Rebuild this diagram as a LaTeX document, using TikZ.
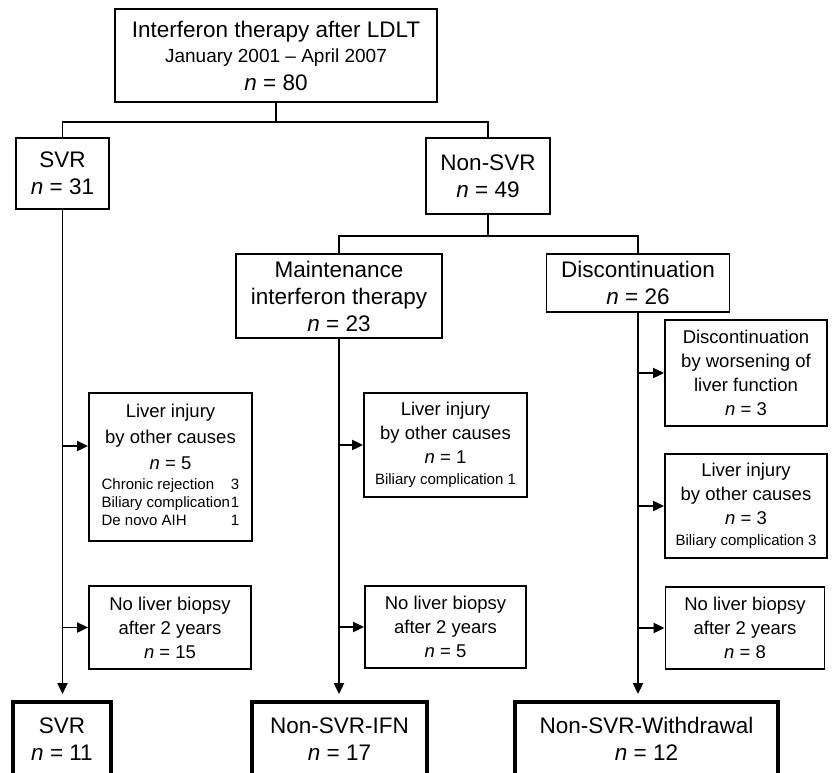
\documentclass[tikz,border=0pt]{standalone}
\usepackage{fontspec}
\setmainfont{Liberation Sans}
\usetikzlibrary{arrows.meta,positioning}

\newcommand{\bigtxt}{\fontsize{22.5}{27}\selectfont}
\newcommand{\midtxt}{\fontsize{18.5}{24}\selectfont}
\newcommand{\smalltxt}{\fontsize{15}{18}\selectfont}

\begin{document}
\begin{tikzpicture}[x=1pt,y=-1pt]
\tikzset{
  flowbox/.style={draw,line width=1.8pt,align=center,inner sep=0pt,font=\bigtxt},
  sidebox/.style={flowbox,font=\midtxt},
  endbox/.style={flowbox,line width=3.8pt},
  link/.style={line width=1.9pt},
  arrow/.style={link,-{Triangle[length=11pt,width=10pt]}}
}
\useasboundingbox (0,0) rectangle (839,772);
\clip (0,0) rectangle (839,772);
% top of the tree
\node[flowbox,minimum width=322pt,minimum height=93pt] (top) at (276,55.5)
  {Interferon therapy after LDLT\\[-2pt]{\fontsize{19}{24}\selectfont January 2001 -- April 2007}\\[1pt]\textit{n} = 80};
\node[flowbox,minimum width=93pt,minimum height=71pt] (svr1) at (62.5,173.5) {SVR\\\textit{n} = 31};
\node[flowbox,minimum width=124pt,minimum height=76pt] (nonsvr) at (488,176) {Non-SVR\\\textit{n} = 49};
\node[flowbox,minimum width=206pt,minimum height=84pt] (maint) at (339,296)
  {Maintenance\\interferon therapy\\\textit{n} = 23};
\node[flowbox,minimum width=183pt,minimum height=58pt] (disc) at (638,283) {Discontinuation\\\textit{n} = 26};
% side boxes
\node[sidebox,minimum width=163pt,minimum height=148pt] (li1) at (170.5,467)
  {Liver injury\\[2pt]by other causes\\[2pt]\textit{n} = 5\\[-4pt]{\smalltxt\begin{tabular}[t]{@{}l@{\hspace{1pt}}r@{}}
   Chronic rejection & 3\\ Biliary complication & 1\\ De novo AIH & 1\end{tabular}}};
\node[sidebox,minimum width=162pt,minimum height=83pt] (nb1) at (170,627.5)
  {No liver biopsy\\after 2 years\\\textit{n} = 15};
\node[sidebox,minimum width=163pt,minimum height=104pt] (li2) at (445.5,445)
  {Liver injury\\by other causes\\\textit{n} = 1\\[-3pt]{\smalltxt Biliary complication 1}};
\node[sidebox,minimum width=161pt,minimum height=82pt] (nb2) at (445.5,627)
  {No liver biopsy\\after 2 years\\\textit{n} = 5};
\node[sidebox,minimum width=162pt,minimum height=106pt] (dw3) at (746,373)
  {Discontinuation\\by worsening of\\liver function\\\textit{n} = 3};
\node[sidebox,minimum width=162pt,minimum height=104pt] (li3) at (746,506)
  {Liver injury\\by other causes\\\textit{n} = 3\\[-3pt]{\smalltxt Biliary complication 3}};
\node[sidebox,minimum width=159pt,minimum height=82pt] (nb3) at (745,628)
  {No liver biopsy\\after 2 years\\\textit{n} = 8};
% outcome groups
\node[endbox,minimum width=98pt,minimum height=74pt] (f1) at (62,739) {SVR\\\textit{n} = 11};
\node[endbox,minimum width=175pt,minimum height=74pt] (f2) at (339.5,739) {Non-SVR-IFN\\\textit{n} = 17};
\node[endbox,minimum width=263pt,minimum height=74pt] (f3) at (646.5,739) {Non-SVR-Withdrawal\\\textit{n} = 12};
% tree links
\coordinate (j0) at (top.south |- 0,122);
\coordinate (j1) at (nonsvr.south |- 0,236);
\coordinate (t1) at (svr1.south |- 0,446);
\draw[link] (top.south) -- (j0);
\draw[link] (svr1.north) |- (j0) -| (nonsvr.north);
\draw[link] (nonsvr.south) -- (j1);
\draw[link] (maint.north) |- (j1) -| (disc.north);
% main columns
\draw[arrow,shorten >=6pt] (svr1.south) -- (svr1.south |- f1.north);
\draw[arrow,shorten >=6pt] (maint.south) -- (maint.south |- f2.north);
\draw[arrow,shorten >=6pt] (disc.south) -- (disc.south |- f3.north);
% side arrows
\draw[arrow] (t1) -- (t1 -| li1.west);
\draw[arrow] (svr1.south |- nb1.west) -- (nb1.west);
\draw[arrow] (maint.south |- li2.west) -- (li2.west);
\draw[arrow] (maint.south |- nb2.west) -- (nb2.west);
\draw[arrow] (disc.south |- dw3.west) -- (dw3.west);
\draw[arrow] (disc.south |- li3.west) -- (li3.west);
\draw[arrow] (disc.south |- nb3.west) -- (nb3.west);
\end{tikzpicture}
\end{document}
